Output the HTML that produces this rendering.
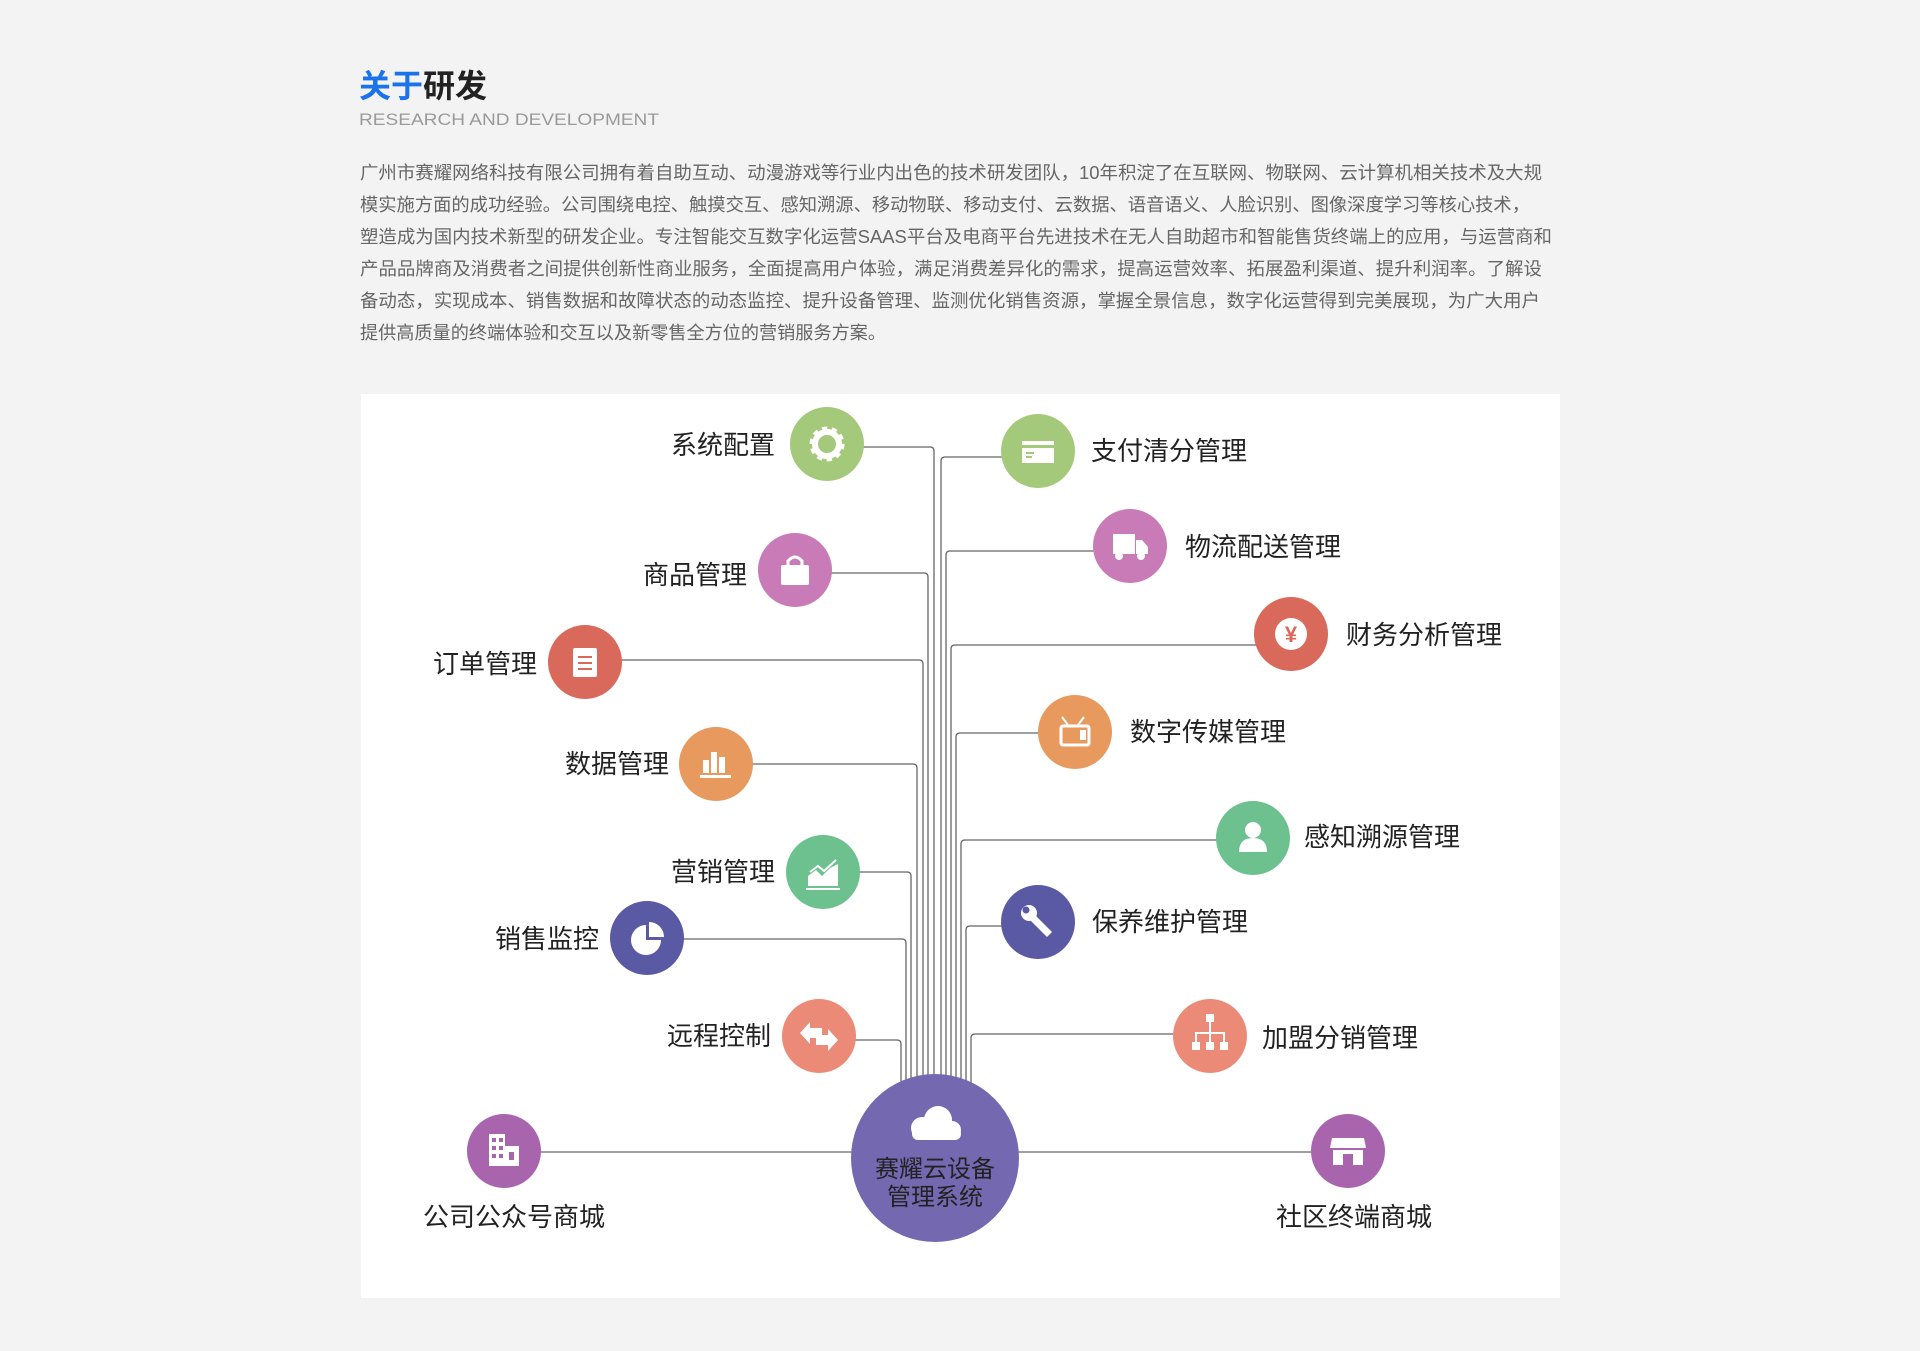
<!DOCTYPE html>
<html><head><meta charset="utf-8"><style>
html,body{margin:0;padding:0;background:#f3f3f3;}
svg{display:block;}
text{font-family:"Liberation Sans","Noto Sans CJK SC",sans-serif;}
</style></head><body>
<svg width="1920" height="1351" viewBox="0 0 1920 1351" xmlns="http://www.w3.org/2000/svg">
<rect width="1920" height="1351" fill="#f3f3f3"/>
<text x="359" y="97" font-size="32" font-weight="bold"><tspan fill="#1a73e8">关于</tspan><tspan fill="#222">研发</tspan></text>
<text x="359" y="125" font-size="17" fill="#9a9a9a" textLength="300" lengthAdjust="spacingAndGlyphs">RESEARCH AND DEVELOPMENT</text>
<g font-size="18" fill="#666">
<text x="360" y="179" textLength="1182" lengthAdjust="spacingAndGlyphs">广州市赛耀网络科技有限公司拥有着自助互动、动漫游戏等行业内出色的技术研发团队，10年积淀了在互联网、物联网、云计算机相关技术及大规</text>
<text x="360" y="211" textLength="1170" lengthAdjust="spacingAndGlyphs">模实施方面的成功经验。公司围绕电控、触摸交互、感知溯源、移动物联、移动支付、云数据、语音语义、人脸识别、图像深度学习等核心技术，</text>
<text x="360" y="243" textLength="1192" lengthAdjust="spacingAndGlyphs">塑造成为国内技术新型的研发企业。专注智能交互数字化运营SAAS平台及电商平台先进技术在无人自助超市和智能售货终端上的应用，与运营商和</text>
<text x="360" y="275" textLength="1182" lengthAdjust="spacingAndGlyphs">产品品牌商及消费者之间提供创新性商业服务，全面提高用户体验，满足消费差异化的需求，提高运营效率、拓展盈利渠道、提升利润率。了解设</text>
<text x="360" y="307" textLength="1180" lengthAdjust="spacingAndGlyphs">备动态，实现成本、销售数据和故障状态的动态监控、提升设备管理、监测优化销售资源，掌握全景信息，数字化运营得到完美展现，为广大用户</text>
<text x="360" y="339" textLength="526" lengthAdjust="spacingAndGlyphs">提供高质量的终端体验和交互以及新零售全方位的营销服务方案。</text>
</g>
<rect x="361" y="394" width="1199" height="904" fill="#fff"/>
<g fill="none" stroke="#666" stroke-width="1.3">
<path d="M827 447 H930 Q934 447 934 451 V1090"/>
<path d="M795 573 H924 Q928 573 928 577 V1090"/>
<path d="M585 660 H919 Q923 660 923 664 V1090"/>
<path d="M716 764 H913 Q917 764 917 768 V1090"/>
<path d="M823 872 H907 Q911 872 911 876 V1090"/>
<path d="M647 939 H902 Q906 939 906 943 V1092"/>
<path d="M819 1040 H897 Q901 1040 901 1044 V1096"/>
<path d="M1038 457 H945 Q941 457 941 461 V1090"/>
<path d="M1130 551 H950 Q946 551 946 555 V1090"/>
<path d="M1291 645 H955 Q951 645 951 649 V1090"/>
<path d="M1075 733 H960 Q956 733 956 737 V1090"/>
<path d="M1253 840 H965 Q961 840 961 844 V1090"/>
<path d="M1038 926 H970 Q966 926 966 930 V1092"/>
<path d="M1210 1034 H975 Q971 1034 971 1038 V1096"/>
<path d="M504 1152 H1348"/>
</g>
<circle cx="935" cy="1158" r="84" fill="#7468b0"/>
<g fill="#fff"><circle cx="922" cy="1128" r="11"/><circle cx="938" cy="1120" r="14"/><circle cx="952" cy="1130" r="9"/><rect x="912" y="1128" width="49" height="12" rx="6"/></g>
<text x="935" y="1177" font-size="24" fill="#222" text-anchor="middle">赛耀云设备</text>
<text x="935" y="1205" font-size="24" fill="#222" text-anchor="middle">管理系统</text>

<g>
<circle cx="827" cy="444" r="37" fill="#a5c97a"/>
<circle cx="827" cy="444" r="12" fill="none" stroke="#fff" stroke-width="6" /><circle cx="827" cy="444" r="15" fill="none" stroke="#fff" stroke-width="5" stroke-dasharray="5 4.4"/>
<circle cx="795" cy="570" r="37" fill="#c97bb8"/>
<rect x="781" y="565" width="28" height="20" rx="2" fill="#fff"/><path d="M788 566 V561 Q795 553 802 561 V566" fill="none" stroke="#fff" stroke-width="3"/>
<circle cx="585" cy="662" r="37" fill="#d9695a"/>
<rect x="573" y="648" width="24" height="29" rx="2" fill="#fff"/><g stroke="#d9695a" stroke-width="2"><path d="M578 657h14M578 663h14M578 669h14"/></g>
<circle cx="716" cy="764" r="37" fill="#e89a5e"/>
<g fill="#fff"><rect x="703" y="760" width="6" height="13"/><rect x="711" y="752" width="6" height="21"/><rect x="719" y="757" width="6" height="16"/><rect x="700" y="775" width="31" height="3"/></g>
<circle cx="823" cy="872" r="37" fill="#6cc18e"/>
<g fill="#fff"><path d="M808 886 V876 L816 870 L822 876 L830 868 L838 864 V886Z"/><rect x="806" y="888" width="34" height="2"/></g><path d="M810 872 L818 866 L824 871 L836 860" stroke="#fff" stroke-width="2" fill="none"/>
<circle cx="647" cy="938" r="37" fill="#5a59a3"/>
<circle cx="646" cy="940" r="15" fill="#fff"/><path d="M646 940 V925 A15 15 0 0 1 661 940Z" fill="#5a59a3"/><path d="M649 937 V922 A15 15 0 0 1 664 937Z" fill="#fff"/>
<circle cx="819" cy="1036" r="37" fill="#ec8a78"/>
<g fill="#fff"><path d="M800 1033 L810 1022 V1028 H822 V1038 H810 V1044Z"/><path d="M838 1040 L828 1029 V1035 H816 V1045 H828 V1051Z"/></g>
<circle cx="504" cy="1151" r="37" fill="#a865ad"/>
<g fill="#fff"><rect x="489" y="1134" width="16" height="32"/><rect x="505" y="1146" width="14" height="20"/></g><g fill="#a865ad"><rect x="492" y="1138" width="4" height="4"/><rect x="499" y="1138" width="4" height="4"/><rect x="492" y="1146" width="4" height="4"/><rect x="499" y="1146" width="4" height="4"/><rect x="492" y="1154" width="4" height="4"/><rect x="499" y="1154" width="4" height="4"/><rect x="509" y="1152" width="5" height="8"/></g>

<circle cx="1038" cy="451" r="37" fill="#a5c97a"/>
<rect x="1022" y="441" width="32" height="22" fill="#fff"/><rect x="1022" y="445" width="32" height="3" fill="#a5c97a"/><rect x="1026" y="452" width="8" height="2" fill="#a5c97a"/><rect x="1026" y="456" width="6" height="2" fill="#a5c97a"/>
<circle cx="1130" cy="546" r="37" fill="#c97bb8"/>
<g fill="#fff"><rect x="1113" y="534" width="22" height="20"/><path d="M1136 540 H1142 L1148 547 V554 H1136Z"/><circle cx="1119" cy="556" r="4"/><circle cx="1141" cy="556" r="4"/></g>
<circle cx="1291" cy="634" r="37" fill="#d9695a"/>
<circle cx="1291" cy="634" r="16" fill="#fff"/><text x="1291" y="642" font-size="22" fill="#d9695a" text-anchor="middle" font-weight="bold">¥</text>
<circle cx="1075" cy="732" r="37" fill="#e89a5e"/>
<rect x="1061" y="726" width="28" height="19" rx="2" fill="none" stroke="#fff" stroke-width="3"/><path d="M1068 725 L1062 717 M1078 725 L1084 717" stroke="#fff" stroke-width="2"/><rect x="1080" y="730" width="6" height="10" fill="#fff"/>
<circle cx="1253" cy="838" r="37" fill="#6cc18e"/>
<g fill="#fff"><circle cx="1253" cy="830" r="8"/><path d="M1239 852 Q1239 838 1253 838 Q1267 838 1267 852Z"/></g>
<circle cx="1038" cy="922" r="37" fill="#5a59a3"/>
<g fill="#fff"><circle cx="1029" cy="913" r="8"/><path d="M1031 911 L1052 932 L1047 937 L1026 916Z"/></g><circle cx="1026" cy="910" r="3.5" fill="#5a59a3"/>
<circle cx="1210" cy="1036" r="37" fill="#ec8a78"/>
<g fill="#fff"><rect x="1206" y="1014" width="8" height="8"/><rect x="1192" y="1042" width="8" height="8"/><rect x="1206" y="1042" width="8" height="8"/><rect x="1220" y="1042" width="8" height="8"/></g><path d="M1210 1022 V1042 M1196 1042 V1033 H1224 V1042" stroke="#fff" stroke-width="2" fill="none"/>
<circle cx="1348" cy="1151" r="37" fill="#a865ad"/>
<g fill="#fff"><path d="M1332 1138 H1364 L1366 1148 H1330Z"/><rect x="1333" y="1150" width="30" height="15"/></g><rect x="1343" y="1154" width="10" height="11" fill="#a865ad"/>
</g>

<g font-size="26" fill="#222">
<text x="775" y="454" text-anchor="end">系统配置</text>
<text x="747" y="584" text-anchor="end">商品管理</text>
<text x="537" y="673" text-anchor="end">订单管理</text>
<text x="669" y="773" text-anchor="end">数据管理</text>
<text x="775" y="881" text-anchor="end">营销管理</text>
<text x="599" y="948" text-anchor="end">销售监控</text>
<text x="771" y="1045" text-anchor="end">远程控制</text>
<text x="514" y="1226" text-anchor="middle">公司公众号商城</text>
<text x="1091" y="460">支付清分管理</text>
<text x="1185" y="556">物流配送管理</text>
<text x="1346" y="644">财务分析管理</text>
<text x="1130" y="741">数字传媒管理</text>
<text x="1304" y="846">感知溯源管理</text>
<text x="1092" y="931">保养维护管理</text>
<text x="1262" y="1047">加盟分销管理</text>
<text x="1354" y="1226" text-anchor="middle">社区终端商城</text>
</g>
</svg>
</body></html>
